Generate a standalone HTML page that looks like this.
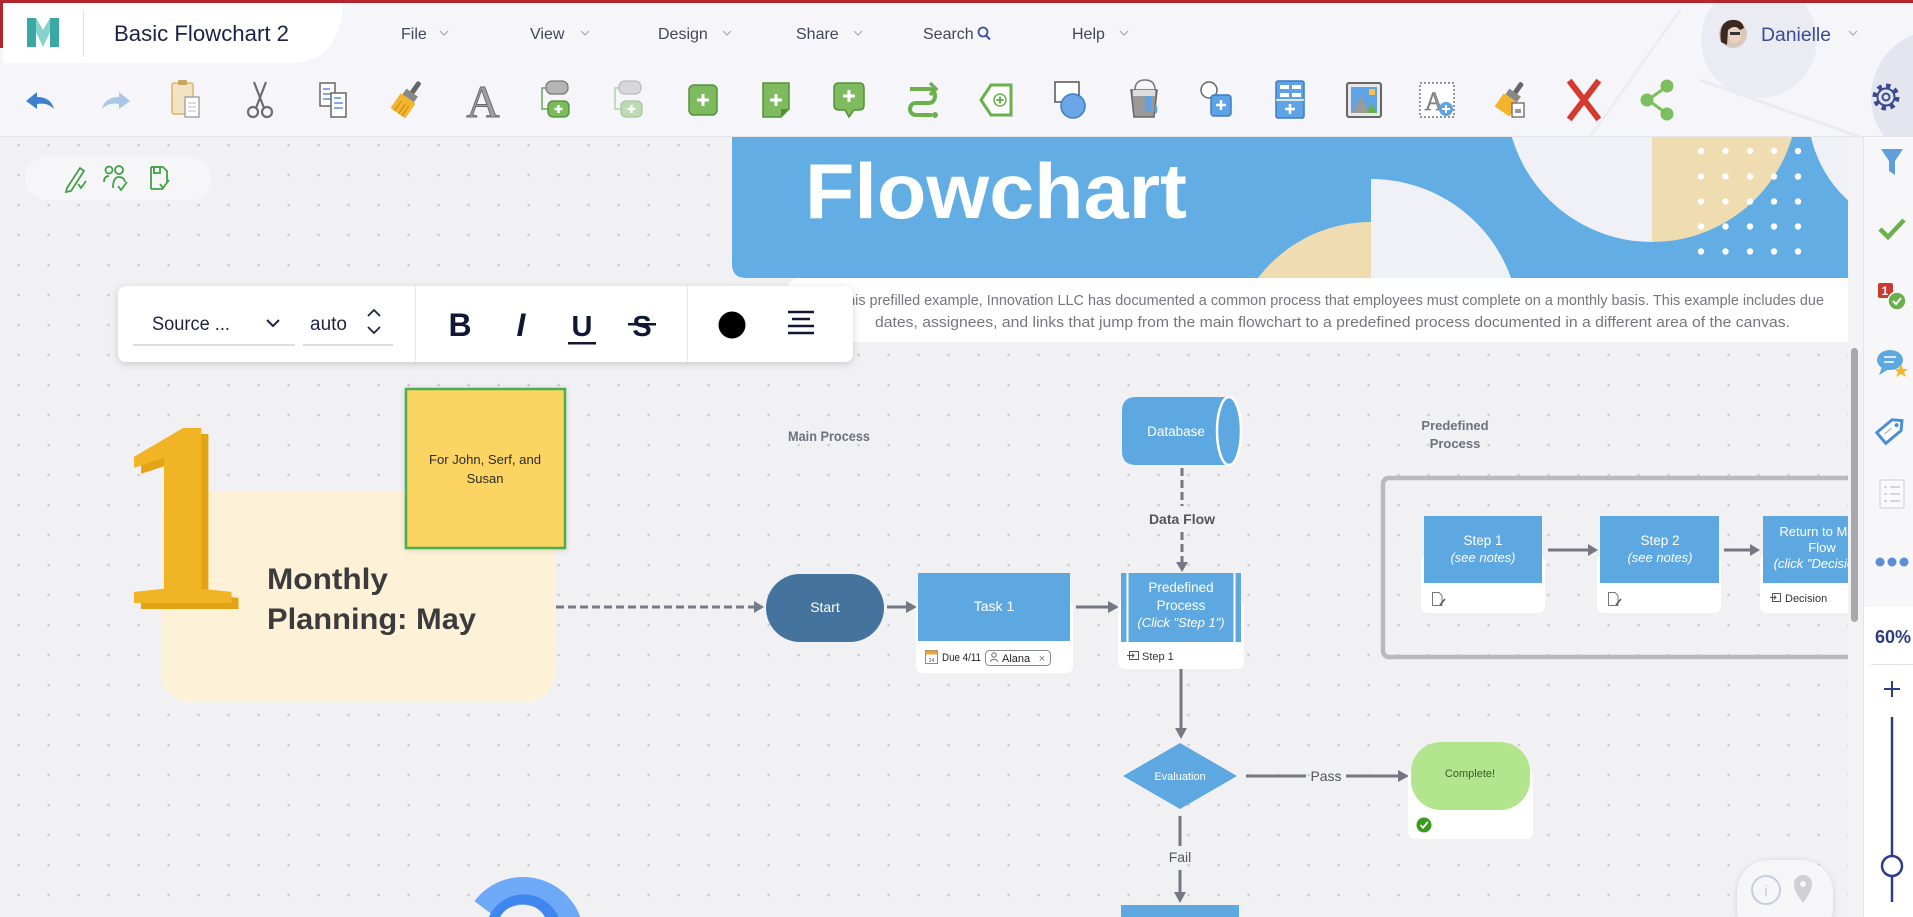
<!DOCTYPE html>
<html><head><meta charset="utf-8">
<style>
html,body{margin:0;padding:0;width:1913px;height:917px;overflow:hidden;background:#f1f1f4;}
svg{display:block}
</style></head>
<body>
<svg width="1913" height="917" viewBox="0 0 1913 917" xmlns="http://www.w3.org/2000/svg" font-family="'Liberation Sans', sans-serif">
<defs>
  <pattern id="dots" x="3.6" y="10" width="30" height="30" patternUnits="userSpaceOnUse">
    <circle cx="15" cy="15" r="1.3" fill="#c9cad2"/>
  </pattern>
  <filter id="sh" x="-10%" y="-30%" width="120%" height="170%">
    <feDropShadow dx="0" dy="2" stdDeviation="4" flood-color="#000" flood-opacity="0.16"/>
  </filter>
  <filter id="sh2" x="-20%" y="-20%" width="140%" height="140%">
    <feDropShadow dx="0" dy="1" stdDeviation="3" flood-color="#000" flood-opacity="0.14"/>
  </filter>
  <clipPath id="bannerClip"><path d="M732,137 H1848 V278 H746 Q732,278 732,264 Z"/></clipPath>
  <clipPath id="canvasClip"><rect x="0" y="137" width="1848" height="780"/></clipPath>
</defs>

<!-- ============ CANVAS ============ -->
<rect x="0" y="137" width="1913" height="780" fill="#f1f1f4"/>
<rect x="0" y="137" width="1848" height="780" fill="url(#dots)"/>

<g clip-path="url(#canvasClip)">
<!-- Banner -->
<path d="M732,137 H1848 V278 H746 Q732,278 732,264 Z" fill="#62ade3"/>
<g clip-path="url(#bannerClip)">
  <path d="M1371,364 L1229,364 A142,142 0 0 1 1371,222 Z" fill="#efdcb0"/>
  <path d="M1371,327.5 L1371,179 A148.5,148.5 0 0 1 1519.5,327.5 Z" fill="#eff1f6"/>
  <path d="M1652,96 L1652,242 A146,146 0 0 1 1506,96 A146,146 0 0 1 1652,-50 Z" fill="#eff1f6"/>
  <path d="M1652,96 L1652,-50 A146,146 0 0 1 1798,96 A146,146 0 0 1 1652,242 Z" fill="#efdcb0"/>
  <circle cx="1930" cy="110" r="122" fill="#eff1f6"/>
  <g fill="#ffffff">
    <circle cx="1701" cy="151" r="3.2"/><circle cx="1725.5" cy="151" r="3.2"/><circle cx="1750" cy="151" r="3.2"/><circle cx="1774" cy="151" r="3.2"/><circle cx="1798" cy="151" r="3.2"/>
    <circle cx="1701" cy="176.5" r="3.2"/><circle cx="1725.5" cy="176.5" r="3.2"/><circle cx="1750" cy="176.5" r="3.2"/><circle cx="1774" cy="176.5" r="3.2"/><circle cx="1798" cy="176.5" r="3.2"/>
    <circle cx="1701" cy="201.5" r="3.2"/><circle cx="1725.5" cy="201.5" r="3.2"/><circle cx="1750" cy="201.5" r="3.2"/><circle cx="1774" cy="201.5" r="3.2"/><circle cx="1798" cy="201.5" r="3.2"/>
    <circle cx="1701" cy="226.5" r="3.2"/><circle cx="1725.5" cy="226.5" r="3.2"/><circle cx="1750" cy="226.5" r="3.2"/><circle cx="1774" cy="226.5" r="3.2"/><circle cx="1798" cy="226.5" r="3.2"/>
    <circle cx="1701" cy="251.5" r="3.2"/><circle cx="1725.5" cy="251.5" r="3.2"/><circle cx="1750" cy="251.5" r="3.2"/><circle cx="1774" cy="251.5" r="3.2"/><circle cx="1798" cy="251.5" r="3.2"/>
  </g>
</g>
<text x="805" y="218" font-size="78" font-weight="bold" fill="#ffffff" textLength="382" lengthAdjust="spacingAndGlyphs">Flowchart</text>

<!-- description box -->
<path d="M801,278 H1848 V342 H787 V292 Q787,278 801,278 Z" fill="#ffffff"/>
<text x="827" y="305" font-size="14.5" fill="#75767c" textLength="997" lengthAdjust="spacingAndGlyphs">In this prefilled example, Innovation LLC has documented a common process that employees must complete on a monthly basis. This example includes due</text>
<text x="875" y="327" font-size="14.5" fill="#75767c" textLength="915" lengthAdjust="spacingAndGlyphs">dates, assignees, and links that jump from the main flowchart to a predefined process documented in a different area of the canvas.</text>

<!-- Monthly planning -->
<rect x="161" y="492" width="394" height="210" rx="30" fill="#fdf2d8"/>
<text x="186" y="609" font-family="'Liberation Serif', serif" font-weight="bold" font-size="265" fill="#e3a315" text-anchor="middle">1</text>
<text x="179" y="603" font-family="'Liberation Serif', serif" font-weight="bold" font-size="265" fill="#f0b424" text-anchor="middle">1</text>
<text x="267" y="589" font-size="30" font-weight="bold" fill="#3b3b3d" textLength="121" lengthAdjust="spacingAndGlyphs">Monthly</text>
<text x="267" y="629" font-size="30" font-weight="bold" fill="#3b3b3d" textLength="209" lengthAdjust="spacingAndGlyphs">Planning: May</text>

<!-- sticky note -->
<rect x="406" y="389" width="159" height="159" fill="#fcd462" stroke="#4caf50" stroke-width="2.5" filter="url(#sh2)"/>
<text x="485" y="464" font-size="13" fill="#2a2a2a" text-anchor="middle" textLength="112" lengthAdjust="spacingAndGlyphs">For John, Serf, and</text>
<text x="485" y="483" font-size="13" fill="#2a2a2a" text-anchor="middle">Susan</text>

<!-- dashed arrow to start -->
<line x1="556" y1="607" x2="754" y2="607" stroke="#767b86" stroke-width="3" stroke-dasharray="8,4"/>
<polygon points="754,601 764,607 754,613" fill="#767b86"/>

<!-- Main Process label -->
<text x="829" y="441" font-size="13.5" font-weight="bold" fill="#6d717c" text-anchor="middle" textLength="82" lengthAdjust="spacingAndGlyphs">Main Process</text>

<!-- Start -->
<rect x="766" y="574" width="118" height="68" rx="34" fill="#44739e"/>
<text x="825" y="612" font-size="14" fill="#ffffff" text-anchor="middle">Start</text>
<line x1="887" y1="607" x2="908" y2="607" stroke="#737883" stroke-width="3"/>
<polygon points="906,601 917,607 906,613" fill="#737883"/>

<!-- Task 1 -->
<rect x="916" y="600" width="157" height="73" rx="7" fill="#ffffff"/>
<rect x="918" y="573" width="152" height="68" fill="#5ea8e2"/>
<text x="994" y="611" font-size="14" fill="#ffffff" text-anchor="middle">Task 1</text>
<rect x="925.5" y="650.5" width="12" height="13" fill="#fff" stroke="#8a8a8a" stroke-width="1"/>
<rect x="925.5" y="650.5" width="12" height="4" fill="#e8a33a"/>
<text x="931.5" y="662" font-size="5" fill="#555" text-anchor="middle">24</text>
<text x="942" y="661" font-size="11" fill="#222" textLength="39" lengthAdjust="spacingAndGlyphs">Due 4/11</text>
<rect x="985.5" y="650.5" width="65" height="15" rx="4" fill="#fff" stroke="#8a8a8a"/>
<circle cx="994" cy="655" r="2.2" fill="none" stroke="#666" stroke-width="1"/>
<path d="M990,661.5 Q994,657 998,661.5" fill="none" stroke="#666" stroke-width="1"/>
<text x="1002" y="662" font-size="11" fill="#222">Alana</text>
<text x="1042" y="662" font-size="11" fill="#777" text-anchor="middle">×</text>

<line x1="1076" y1="607" x2="1110" y2="607" stroke="#737883" stroke-width="3"/>
<polygon points="1108,601 1119,607 1108,613" fill="#737883"/>

<!-- Database -->
<path d="M1136,397 H1229 V465 H1136 Q1122,465 1122,451 V411 Q1122,397 1136,397 Z" fill="#5ea8e2"/>
<ellipse cx="1229" cy="431" rx="12" ry="34" fill="#5ea8e2" stroke="#ffffff" stroke-width="2.5"/>
<text x="1176" y="436" font-size="13.5" fill="#ffffff" text-anchor="middle">Database</text>
<line x1="1182" y1="468" x2="1182" y2="506" stroke="#737883" stroke-width="3" stroke-dasharray="8,4"/>
<text x="1182" y="524" font-size="14" font-weight="bold" fill="#50555f" text-anchor="middle">Data Flow</text>
<line x1="1182" y1="532" x2="1182" y2="563" stroke="#737883" stroke-width="3" stroke-dasharray="8,4"/>
<polygon points="1176,562 1182,572 1188,562" fill="#737883"/>

<!-- Predefined process node -->
<rect x="1118" y="600" width="126" height="69" rx="7" fill="#ffffff"/>
<rect x="1121" y="573" width="120" height="69" fill="#5ea8e2"/>
<line x1="1127.5" y1="573" x2="1127.5" y2="642" stroke="#ffffff" stroke-width="2"/>
<line x1="1234.5" y1="573" x2="1234.5" y2="642" stroke="#ffffff" stroke-width="2"/>
<text x="1181" y="592" font-size="13.5" fill="#ffffff" text-anchor="middle">Predefined</text>
<text x="1181" y="610" font-size="13.5" fill="#ffffff" text-anchor="middle">Process</text>
<text x="1181" y="627" font-size="13" font-style="italic" fill="#ffffff" text-anchor="middle">(Click "Step 1")</text>
<rect x="1129.5" y="651.5" width="9" height="8" fill="none" stroke="#555" stroke-width="1"/>
<path d="M1127,655.5 H1134 M1132,653.5 L1134,655.5 L1132,657.5" fill="none" stroke="#555" stroke-width="1"/>
<text x="1142" y="660" font-size="11" fill="#333">Step 1</text>

<line x1="1181" y1="669" x2="1181" y2="729" stroke="#737883" stroke-width="3"/>
<polygon points="1175,728 1181,739 1187,728" fill="#737883"/>

<!-- Evaluation -->
<polygon points="1180,743 1237,776 1180,809 1123,776" fill="#5ea8e2"/>
<text x="1180" y="780" font-size="11" fill="#ffffff" text-anchor="middle">Evaluation</text>
<line x1="1246" y1="776" x2="1306" y2="776" stroke="#737883" stroke-width="3"/>
<text x="1326" y="781" font-size="14" fill="#50555f" text-anchor="middle">Pass</text>
<line x1="1346" y1="776" x2="1399" y2="776" stroke="#737883" stroke-width="3"/>
<polygon points="1398,770 1409,776 1398,782" fill="#737883"/>

<!-- Complete -->
<rect x="1408" y="770" width="125" height="69" rx="7" fill="#ffffff"/>
<rect x="1411" y="742" width="119" height="68" rx="30" fill="#b3e48e"/>
<text x="1470" y="777" font-size="11" fill="#3d5a2b" text-anchor="middle">Complete!</text>
<circle cx="1424" cy="825" r="7.5" fill="#3b9a1d"/>
<path d="M1420.5,825 L1423,827.8 L1427.8,822" fill="none" stroke="#fff" stroke-width="1.8"/>

<!-- Fail -->
<line x1="1180" y1="816" x2="1180" y2="846" stroke="#737883" stroke-width="3"/>
<text x="1180" y="862" font-size="14" fill="#50555f" text-anchor="middle">Fail</text>
<line x1="1180" y1="870" x2="1180" y2="893" stroke="#737883" stroke-width="3"/>
<polygon points="1174,892 1180,903 1186,892" fill="#737883"/>
<rect x="1121" y="905" width="118" height="20" fill="#5ea8e2"/>

<!-- Predefined Process group -->
<text x="1455" y="430" font-size="13" font-weight="bold" fill="#6d717c" text-anchor="middle">Predefined</text>
<text x="1455" y="448" font-size="13" font-weight="bold" fill="#6d717c" text-anchor="middle">Process</text>
<rect x="1383" y="478" width="540" height="179" rx="6" fill="none" stroke="#b9b9be" stroke-width="4.5"/>

<rect x="1421" y="555" width="124" height="58" rx="7" fill="#ffffff"/>
<rect x="1424" y="516" width="118" height="67" fill="#5ea8e2"/>
<text x="1483" y="545" font-size="13.5" fill="#ffffff" text-anchor="middle">Step 1</text>
<text x="1483" y="562" font-size="13" font-style="italic" fill="#ffffff" text-anchor="middle">(see notes)</text>
<path d="M1432.5,592.5 H1439 L1442,595.5 V605.5 H1432.5 Z" fill="none" stroke="#777" stroke-width="1"/>
<path d="M1440,605 L1445,599" stroke="#555" stroke-width="1.5"/>

<line x1="1548" y1="550" x2="1589" y2="550" stroke="#737883" stroke-width="3"/>
<polygon points="1588,544 1598,550 1588,556" fill="#737883"/>

<rect x="1597" y="555" width="124" height="58" rx="7" fill="#ffffff"/>
<rect x="1600" y="516" width="119" height="67" fill="#5ea8e2"/>
<text x="1660" y="545" font-size="13.5" fill="#ffffff" text-anchor="middle">Step 2</text>
<text x="1660" y="562" font-size="13" font-style="italic" fill="#ffffff" text-anchor="middle">(see notes)</text>
<path d="M1608.5,592.5 H1615 L1618,595.5 V605.5 H1608.5 Z" fill="none" stroke="#777" stroke-width="1"/>
<path d="M1616,605 L1621,599" stroke="#555" stroke-width="1.5"/>

<line x1="1724" y1="550" x2="1751" y2="550" stroke="#737883" stroke-width="3"/>
<polygon points="1750,544 1760,550 1750,556" fill="#737883"/>

<rect x="1760" y="555" width="124" height="58" rx="7" fill="#ffffff"/>
<rect x="1763" y="516" width="118" height="67" fill="#5ea8e2"/>
<text x="1822" y="536" font-size="13" fill="#ffffff" text-anchor="middle">Return to  Main</text>
<text x="1822" y="552" font-size="13" fill="#ffffff" text-anchor="middle">Flow</text>
<text x="1822" y="568" font-size="13" font-style="italic" fill="#ffffff" text-anchor="middle">(click "Decision")</text>
<rect x="1772.5" y="593.5" width="8" height="8" fill="none" stroke="#555" stroke-width="1"/>
<path d="M1770,597.5 H1776 M1774,595.5 L1776,597.5 L1774,599.5" fill="none" stroke="#555" stroke-width="1"/>
<text x="1785" y="602" font-size="11" fill="#333">Decision</text>

<!-- bottom blue logo -->
<path d="M474.4,901.1 A61,61 0 0 1 584,938 L556,938 A33,33 0 0 0 496.7,918 Z" fill="#6ea9f7"/>
<path d="M489,917 A38,38 0 0 1 561,925 L548,925 A26,26 0 0 0 500,917 Z" fill="#3f86ef"/>

<!-- info pill -->
<rect x="1737" y="860" width="96" height="80" rx="32" fill="#f6f6f8" filter="url(#sh2)"/>
<circle cx="1766" cy="890" r="14" fill="none" stroke="#c9cce0" stroke-width="2"/>
<text x="1766" y="896" font-size="15" fill="#c9cce0" text-anchor="middle">i</text>
<path d="M1803,903 C1796,893 1794,889 1794,884 A9,9 0 0 1 1812,884 C1812,889 1810,893 1803,903 Z" fill="#d0d0d4"/>
<circle cx="1803" cy="884" r="3" fill="#f6f6f8"/>
</g>

<!-- scrollbar track & thumb -->
<rect x="1848" y="137" width="15" height="780" fill="#f3f3f6"/>
<rect x="1851" y="348" width="7" height="274" rx="3.5" fill="#a8a8ad"/>

<!-- ============ FORMAT TOOLBAR ============ -->
<rect x="118" y="286" width="735" height="76" rx="8" fill="#ffffff" filter="url(#sh)"/>
<text x="152" y="330" font-size="19" fill="#1f2340" textLength="78" lengthAdjust="spacingAndGlyphs">Source ...</text>
<rect x="133" y="344" width="162" height="2" fill="#dcdce2"/>
<path d="M267,320 L273,326 L279,320" fill="none" stroke="#1f2340" stroke-width="2"/>
<text x="310" y="330" font-size="19" fill="#1f2340">auto</text>
<rect x="303" y="344" width="90" height="2" fill="#dcdce2"/>
<path d="M368,316 L374,310 L380,316 M368,327 L374,333 L380,327" fill="none" stroke="#1f2340" stroke-width="1.8"/>
<line x1="415.5" y1="286" x2="415.5" y2="362" stroke="#e8e8ec"/>
<text x="460" y="336" font-size="32" font-weight="bold" fill="#111633" text-anchor="middle">B</text>
<text x="521" y="336" font-size="32" font-weight="bold" font-style="italic" fill="#111633" text-anchor="middle">I</text>
<text x="582" y="336" font-size="29" font-weight="bold" fill="#111633" text-anchor="middle">U</text>
<rect x="568" y="342" width="28" height="2.5" fill="#111633"/>
<text x="642" y="336" font-size="29" font-weight="bold" fill="#111633" text-anchor="middle">S</text>
<rect x="628" y="323" width="28" height="2.5" fill="#111633"/>
<line x1="687.5" y1="286" x2="687.5" y2="362" stroke="#e8e8ec"/>
<circle cx="732" cy="325" r="13.5" fill="#000"/>
<g stroke="#111633" stroke-width="2.5">
  <line x1="788" y1="312" x2="814" y2="312"/>
  <line x1="792" y1="319" x2="810" y2="319"/>
  <line x1="788" y1="326" x2="814" y2="326"/>
  <line x1="788" y1="333" x2="814" y2="333"/>
</g>

<!-- top-left status pill -->
<rect x="25" y="157" width="186" height="43" rx="21" fill="#f6f6f9"/>
<g fill="none" stroke="#43a047" stroke-width="1.8">
  <path d="M67,188 L80,168 L84,171 L71,191 L66,192 Z"/>
  <path d="M78,184 L81,188 L86,181"/>
  <circle cx="109" cy="170" r="3.5"/><circle cx="119" cy="170" r="4"/>
  <path d="M104,182 Q104,176 109,176 M113,188 Q113,177 119,177 Q124,177 125,182"/>
  <path d="M118,186 L121,190 L127,182"/>
  <path d="M151,167 H163 L167,171 V183 M163,189 H151 Z M151,167 V189"/>
  <rect x="154" y="167" width="6" height="6"/>
  <path d="M160,184 L163,188 L169,180"/>
</g>

<!-- ============ HEADER ============ -->
<rect x="0" y="0" width="1913" height="137" fill="#f6f6fa"/>
<circle cx="1759" cy="40" r="58" fill="#ebebf3"/>
<circle cx="1938" cy="97" r="67" fill="#e5e5ef"/>
<line x1="1590" y1="137" x2="1680" y2="10" stroke="#ececf2" stroke-width="3"/>
<line x1="1700" y1="80" x2="1860" y2="137" stroke="#eaeaf1" stroke-width="3"/>
<line x1="0" y1="136.5" x2="1913" y2="136.5" stroke="#e4e4ea"/>
<rect x="0" y="0" width="1913" height="3" fill="#b3262b"/>
<rect x="0" y="0" width="3" height="48" fill="#b3262b"/>
<path d="M3,3 H343 C343,40 322,63 292,63 H3 Z" fill="#ffffff"/>
<rect x="27" y="18" width="9" height="29" fill="#3aa9a3"/>
<rect x="50" y="18" width="9" height="29" fill="#3aa9a3"/>
<polygon points="36,18 43,30 50,18 50,32 43,47 36,32" fill="#86d3cd"/>
<line x1="83.5" y1="10" x2="83.5" y2="57" stroke="#e2e2e8"/>
<text x="114" y="41" font-size="22" fill="#1b2245" textLength="175" lengthAdjust="spacingAndGlyphs">Basic Flowchart 2</text>

<g font-size="16" fill="#41465a">
  <text x="401" y="39">File</text>
  <text x="530" y="39">View</text>
  <text x="658" y="39">Design</text>
  <text x="796" y="39">Share</text>
  <text x="923" y="39">Search</text>
  <text x="1072" y="39">Help</text>
</g>
<g fill="none" stroke="#a5a8b5" stroke-width="1.2">
  <path d="M440,31 L444,35 L448,31"/>
  <path d="M581,31 L585,35 L589,31"/>
  <path d="M723,31 L727,35 L731,31"/>
  <path d="M854,31 L858,35 L862,31"/>
  <path d="M1120,31 L1124,35 L1128,31"/>
  <path d="M1849,31 L1853,35 L1857,31"/>
</g>
<circle cx="983" cy="32" r="4.5" fill="none" stroke="#3d4f9f" stroke-width="1.8"/>
<line x1="986" y1="35.5" x2="990" y2="39.5" stroke="#3d4f9f" stroke-width="2"/>
<circle cx="1733" cy="34" r="14" fill="#d9c8bc"/>
<path d="M1721,42 Q1718,22 1731,20 Q1742,19 1744,28 L1740,30 Q1734,24 1728,30 L1727,45 Z" fill="#3b2a22"/>
<ellipse cx="1735" cy="35" rx="6" ry="8" fill="#ecd3c1"/>
<rect x="1730" y="32" width="10" height="3" fill="#333"/>
<text x="1761" y="41" font-size="19" fill="#3c4b94" textLength="70" lengthAdjust="spacingAndGlyphs">Danielle</text>

<!-- toolbar icons -->
<path transform="translate(40,100)" d="M-14,1 L-3,-8 L-3,-3 C6,-3 12,1 14,9 C9,4 4,3 -3,4 L-3,9 Z" fill="#3f7fcf"/>
<path transform="translate(116,100) scale(-1,1)" d="M-14,1 L-3,-8 L-3,-3 C6,-3 12,1 14,9 C9,4 4,3 -3,4 L-3,9 Z" fill="#a9c6ea"/>
<g transform="translate(187,100)">
  <rect x="-15" y="-17" width="21" height="31" rx="2" fill="#f4e3c0" stroke="#d8b46d" stroke-width="1.5"/>
  <rect x="-9" y="-20" width="9" height="5" rx="1" fill="#c9a45c"/>
  <rect x="-2" y="-3" width="14" height="20" fill="#fff" stroke="#9a9a9a" stroke-width="1.3"/>
  <path d="M1,3 H9 M1,7 H9 M1,11 H9" stroke="#bbb"/>
</g>
<g transform="translate(260,100)" fill="none" stroke="#6d6d6d" stroke-width="2.2">
  <circle cx="-7" cy="12" r="5"/><circle cx="7" cy="12" r="5"/>
  <path d="M-4,8 L6,-18 M4,8 L-6,-18"/>
</g>
<g transform="translate(334,100)">
  <rect x="-14" y="-17" width="15" height="23" fill="#fff" stroke="#666" stroke-width="1.5"/>
  <path d="M-11,-11 H-4 M-11,-6 H-2 M-11,-1 H-2" stroke="#5b8fd6" stroke-width="1.5"/>
  <rect x="-3" y="-7" width="15" height="24" fill="#fff" stroke="#666" stroke-width="1.5"/>
  <path d="M0,-2 H7 M0,3 H9 M0,8 H9" stroke="#5b8fd6" stroke-width="1.5"/>
</g>
<g transform="translate(407,100) rotate(35)">
  <rect x="-2.5" y="-22" width="5" height="14" rx="2" fill="#666"/>
  <rect x="-7" y="-9" width="14" height="7" fill="#888"/>
  <rect x="-9" y="-2" width="18" height="18" rx="1" fill="#f2b52b"/>
  <path d="M-4,4 V16 M1,4 V16 M5,4 V16" stroke="#c28a10" stroke-width="1"/>
</g>
<text x="483" y="117" font-family="'Liberation Serif', serif" font-size="46" fill="#a0a0a0" stroke="#6a6a6a" stroke-width="1" text-anchor="middle">A</text>
<g transform="translate(555,100)">
  <rect x="-9" y="-19" width="22" height="13" rx="6" fill="#b5b5b5" stroke="#777" stroke-width="1.3"/>
  <path d="M-9,-12 H-13 V9 H-7" fill="none" stroke="#6aa35a" stroke-width="1.5"/>
  <rect x="-7" y="1" width="21" height="16" rx="5" fill="#7cba5c" stroke="#4d8f35" stroke-width="1.3"/>
  <path d="M3.5,5 V13 M-0.5,9 H7.5" stroke="#fff" stroke-width="2.5"/>
</g>
<g transform="translate(628,100)" opacity="0.45">
  <rect x="-9" y="-19" width="22" height="13" rx="6" fill="#b5b5b5" stroke="#777" stroke-width="1.3"/>
  <path d="M-9,-12 H-13 V9 H-7" fill="none" stroke="#6aa35a" stroke-width="1.5"/>
  <rect x="-7" y="1" width="21" height="16" rx="5" fill="#7cba5c" stroke="#4d8f35" stroke-width="1.3"/>
  <path d="M3.5,5 V13 M-0.5,9 H7.5" stroke="#fff" stroke-width="2.5"/>
</g>
<g transform="translate(703,100)">
  <rect x="-14" y="-15" width="28" height="30" rx="5" fill="#7dbb5e" stroke="#55913b" stroke-width="1.5"/>
  <path d="M0,-6 V6 M-6,0 H6" stroke="#fff" stroke-width="3"/>
</g>
<g transform="translate(776,100)">
  <path d="M-13,-17 H13 V9 L5,17 H-13 Z" fill="#7dbb5e" stroke="#55913b" stroke-width="1.5"/>
  <path d="M5,17 V9 H13" fill="#4d8f35"/>
  <path d="M0,-6 V6 M-6,0 H6" stroke="#fff" stroke-width="3"/>
</g>
<g transform="translate(849,100)">
  <path d="M-10,-17 H10 Q15,-17 15,-12 V5 Q15,10 10,10 H5 L0,17 L-4,10 H-10 Q-15,10 -15,5 V-12 Q-15,-17 -10,-17 Z" fill="#7dbb5e" stroke="#55913b" stroke-width="1.5"/>
  <path d="M0,-10 V2 M-6,-4 H6" stroke="#fff" stroke-width="3"/>
</g>
<g transform="translate(922,100)" fill="none" stroke="#6ab04c" stroke-width="4">
  <path d="M-12,-11 H7 C15,-11 15,3 7,3 H-6 C-14,3 -14,15 -6,15 H10"/>
  <path d="M8,-17 L14,-11 L8,-5" stroke-width="3.5"/>
  <circle cx="13" cy="15" r="3" fill="#6ab04c" stroke="none"/>
</g>
<g transform="translate(997,100)">
  <path d="M-16,0 L-6,-15 H14 V15 H-6 Z" fill="#fff" stroke="#6ab04c" stroke-width="3"/>
  <circle cx="3" cy="0" r="6" fill="none" stroke="#6ab04c" stroke-width="1.5"/>
  <path d="M3,-3.5 V3.5 M-0.5,0 H6.5" stroke="#6ab04c" stroke-width="2"/>
</g>
<g transform="translate(1070,100)">
  <rect x="-15" y="-18" width="24" height="20" fill="#fff" stroke="#555" stroke-width="1.5"/>
  <circle cx="3" cy="6" r="12" fill="#6aa7e6" stroke="#3d7cc4" stroke-width="1.5"/>
</g>
<g transform="translate(1143,100)">
  <path d="M-8,-10 Q-8,-20 2,-20 Q12,-20 12,-10" fill="none" stroke="#777" stroke-width="1.5"/>
  <path d="M-12,-10 H14 L11,17 H-9 Z" fill="#9a9a9a" stroke="#666" stroke-width="1.5"/>
  <path d="M-10,-10 H12 V-4 H-10 Z" fill="#ddd"/>
  <path d="M2,-4 V8 Q2,12 5,12 Q8,12 8,8 V-4" fill="#5ea3e6"/>
  <path d="M13,4 Q16,10 13,14 Q10,10 13,4" fill="#5ea3e6"/>
</g>
<g transform="translate(1216,100)">
  <circle cx="-7" cy="-10" r="8" fill="#fff" stroke="#666" stroke-width="1.5"/>
  <rect x="-5" y="-5" width="20" height="21" rx="3" fill="#5ea3e6" stroke="#3d7cc4" stroke-width="1.5"/>
  <path d="M5,0 V10 M0,5 H10" stroke="#fff" stroke-width="2.5"/>
</g>
<g transform="translate(1290,100)">
  <rect x="-14" y="-19" width="28" height="37" rx="2" fill="#5ea3e6" stroke="#3d7cc4" stroke-width="1.5"/>
  <rect x="-10" y="-15" width="9" height="4" fill="#fff"/><rect x="2" y="-15" width="9" height="4" fill="#fff"/>
  <rect x="-10" y="-7" width="9" height="4" fill="#fff"/><rect x="2" y="-7" width="9" height="4" fill="#fff"/>
  <line x1="-14" y1="0" x2="14" y2="0" stroke="#fff" stroke-width="1.5"/>
  <path d="M0,4 V14 M-5,9 H5" stroke="#fff" stroke-width="2.5"/>
</g>
<g transform="translate(1364,100)">
  <rect x="-17" y="-17" width="34" height="34" rx="2" fill="#e8e8e8" stroke="#666" stroke-width="2"/>
  <rect x="-13" y="-13" width="26" height="26" fill="#5ea3e6"/>
  <polygon points="-12,13 -3,-4 6,13" fill="#9a9a9a"/>
  <polygon points="2,13 8,3 13,13" fill="#6ab04c"/>
  <rect x="5" y="-11" width="6" height="6" fill="#f2c24a"/>
</g>
<g transform="translate(1437,100)">
  <rect x="-17" y="-17" width="34" height="34" fill="#fff" stroke="#555" stroke-width="1.2" stroke-dasharray="2,2"/>
  <text x="-3" y="10" font-family="'Liberation Serif', serif" font-size="26" fill="#999" stroke="#666" stroke-width="0.6" text-anchor="middle">A</text>
  <circle cx="9" cy="9" r="7" fill="#5ea3e6"/>
  <path d="M9,5 V13 M5,9 H13" stroke="#fff" stroke-width="2"/>
</g>
<g transform="translate(1510,100)">
  <g transform="rotate(35)">
    <rect x="-2.5" y="-21" width="5" height="13" rx="2" fill="#666"/>
    <rect x="-7" y="-9" width="14" height="7" fill="#888"/>
    <rect x="-9" y="-2" width="18" height="16" rx="1" fill="#f2b52b"/>
  </g>
  <rect x="2" y="3" width="12" height="14" fill="#fff" stroke="#666" stroke-width="1.3"/>
  <rect x="5" y="9" width="6" height="4" fill="#999"/>
</g>
<g transform="translate(1584,100)" stroke="#d63a2f" stroke-width="6" stroke-linecap="square">
  <line x1="-13" y1="-17" x2="13" y2="17"/><line x1="13" y1="-17" x2="-13" y2="17"/>
</g>
<g transform="translate(1657,100)" fill="#7cbf5e">
  <path d="M9,-13 L-9,0 L9,13" fill="none" stroke="#7cbf5e" stroke-width="3"/>
  <circle cx="10" cy="-14" r="6.5"/><circle cx="-10" cy="0" r="6.5"/><circle cx="10" cy="14" r="6.5"/>
</g>

<!-- ============ RIGHT SIDEBAR ============ -->
<rect x="1863" y="137" width="50" height="780" fill="#f7f7fa"/>
<line x1="1863.5" y1="137" x2="1863.5" y2="917" stroke="#e4e4ea"/>
<rect x="1864" y="607" width="49" height="310" fill="#ffffff"/>
<line x1="1871" y1="664.5" x2="1913" y2="664.5" stroke="#e2e2e8"/>

<g transform="translate(1886,97)">
  <circle r="11" fill="none" stroke="#3b4a8e" stroke-width="5" stroke-dasharray="4.3,4.3"/>
  <circle r="8.5" fill="#e5e5ef" stroke="#3b4a8e" stroke-width="2"/>
  <circle r="3.5" fill="none" stroke="#3b4a8e" stroke-width="2"/>
</g>
<path transform="translate(1892,162)" d="M-11,-13 H11 L3,-1 V13 L-3,9 V-1 Z" fill="#5f9fdc"/>
<polyline transform="translate(1892,229)" points="-12,0 -4,8 12,-9" fill="none" stroke="#6ab04c" stroke-width="4.5"/>
<g transform="translate(1892,296)">
  <rect x="-14" y="-13" width="15" height="15" rx="2" fill="#c93a33"/>
  <text x="-7" y="-1" font-size="12" font-weight="bold" fill="#fff" text-anchor="middle">1</text>
  <circle cx="5" cy="5" r="9" fill="#6ab04c" stroke="#fff" stroke-width="1.5"/>
  <path d="M1,5 L4,8 L9,2" fill="none" stroke="#fff" stroke-width="2"/>
</g>
<g transform="translate(1892,363)">
  <ellipse cx="-2" cy="-3" rx="13" ry="10" fill="#5ea8e2"/>
  <path d="M-10,4 L-13,12 L-3,6 Z" fill="#5ea8e2"/>
  <path d="M-8,-6 H4 M-8,-1 H2" stroke="#fff" stroke-width="1.5"/>
  <polygon points="9,1 11,6 16,6 12,9 14,14 9,11 4,14 6,9 2,6 7,6" fill="#f2b52b"/>
</g>
<g transform="translate(1892,429) rotate(-40)">
  <path d="M-14,-7 H6 L13,0 L6,7 H-14 Z" fill="#fff" stroke="#4a8fd6" stroke-width="3"/>
  <circle cx="6" cy="0" r="2" fill="#4a8fd6"/>
  <path d="M-9,-1 H0" stroke="#bbb" stroke-width="1.5"/>
</g>
<g transform="translate(1892,494)">
  <rect x="-12" y="-14" width="24" height="28" rx="2" fill="#fafafc" stroke="#dcdce2" stroke-width="1.5"/>
  <path d="M-8,-7 H-5 M-2,-7 H8 M-8,0 H-5 M-2,0 H8 M-8,7 H-5 M-2,7 H8" stroke="#d6d6de" stroke-width="2"/>
</g>
<g fill="#5b8fd6">
  <circle cx="1880" cy="562" r="4.5"/><circle cx="1892" cy="562" r="4.5"/><circle cx="1904" cy="562" r="4.5"/>
</g>
<text x="1893" y="643" font-size="18" font-weight="bold" fill="#2d3c7e" text-anchor="middle">60%</text>
<path d="M1892,681 V697 M1884,689 H1900" stroke="#2d3c8a" stroke-width="2"/>
<line x1="1892" y1="717" x2="1892" y2="856" stroke="#2d3c8a" stroke-width="2.5"/>
<line x1="1892" y1="876" x2="1892" y2="902" stroke="#2d3c8a" stroke-width="2.5"/>
<circle cx="1892" cy="866" r="10" fill="#fff" stroke="#2d3c8a" stroke-width="2.5"/>
</svg>
</body></html>
